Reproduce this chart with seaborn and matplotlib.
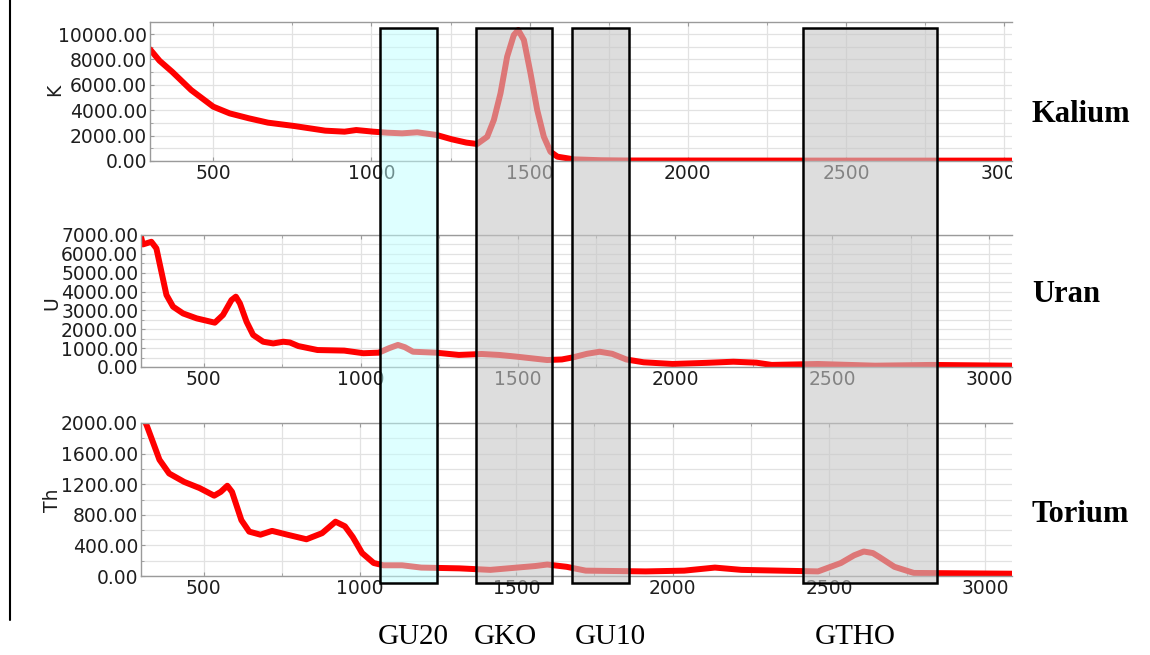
import numpy as np
import pandas as pd
import seaborn as sns
import matplotlib
matplotlib.use("Agg")
import matplotlib.pyplot as plt
from matplotlib.patches import Rectangle
from matplotlib.lines import Line2D
from matplotlib.transforms import Bbox, TransformedBbox
from matplotlib.ticker import MultipleLocator, FormatStrFormatter

# ---------------- data ----------------
kalium_x = [300, 330, 370, 430, 500, 552, 613, 673, 755, 854, 915, 952, 1006, 1050,
            1097, 1145, 1206, 1254, 1300, 1334, 1366, 1387, 1408, 1429, 1450, 1464,
            1482, 1503, 1524, 1545, 1566, 1588, 1640, 1725, 1800, 2500, 3025]
kalium_y = [8800, 7900, 7030, 5590, 4280, 3750, 3360, 3020, 2760, 2390, 2310, 2440, 2310, 2230,
            2180, 2260, 2050, 1710, 1450, 1340, 1910, 3230, 5330, 8220, 9920, 10315,
            9530, 6900, 4020, 1910, 730, 340, 130, 60, 40, 30, 30]

uran_x = [300, 306, 333, 349, 365, 381, 402, 434, 477, 535, 561, 588, 602, 615, 636, 657,
          689, 721, 753, 774, 801, 862, 947, 1008, 1057, 1090, 1118, 1140, 1166, 1239, 1312,
          1385, 1440, 1495, 1593, 1640, 1675, 1720, 1760, 1800, 1845, 1900, 1992, 2100,
          2186, 2259, 2308, 2455, 2637, 2818, 3073]
uran_y = [6910, 6500, 6640, 6290, 5050, 3820, 3200, 2840, 2580, 2350, 2760, 3550, 3730, 3370, 2400, 1700,
          1340, 1250, 1340, 1300, 1110, 900, 870, 730, 760, 1000, 1170, 1050, 810, 760, 640,
          690, 640, 550, 370, 400, 510, 700, 810, 700, 400, 250, 160, 220,
          280, 230, 110, 160, 70, 110, 70]

torium_x = [300, 320, 340, 359, 390, 438, 487, 534, 555, 576, 591, 621, 646, 682, 719, 768,
            829, 879, 922, 952, 977, 1007, 1044, 1075, 1135, 1196, 1318, 1417, 1502, 1560,
            1599, 1661, 1722, 1914, 2037, 2135, 2220, 2342, 2465, 2538, 2580, 2611, 2640,
            2660, 2709, 2771, 3085]
torium_y = [2150, 1950, 1730, 1520, 1340, 1230, 1150, 1050, 1100, 1180, 1100, 730, 580, 540, 590, 540,
            480, 560, 710, 650, 510, 300, 170, 140, 140, 110, 100, 80, 110, 130,
            150, 120, 70, 60, 70, 110, 80, 70, 60, 170, 270, 320, 300,
            250, 120, 40, 30]

axis_letters = ["K", "U", "Th"]
panel_names = ["Kalium", "Uran", "Torium"]
box_labels = ["GU20", "GKO", "GU10", "GTHO"]

# ---------------- figure ----------------
sns.set_style("white")
plt.rcParams['font.family'] = ['DejaVu Sans']

W, H = 1150, 655
fig = plt.figure(figsize=(W / 100, H / 100), dpi=100)


def fx(px):
    return px / W


def fy(py):
    return 1 - py / H


def make_ax(left, right, top, bottom):
    return fig.add_axes([left / W, 1 - bottom / H, (right - left) / W, (bottom - top) / H])


panels = [
    dict(x=kalium_x, y=kalium_y, pos=(150, 1012, 22, 161), xlim=(300, 3025),
         ylim=(0, 10950), ystep=2000, letter_pos=(55, 90), name_y=115),
    dict(x=uran_x, y=uran_y, pos=(141, 1012, 235, 367), xlim=(300, 3073),
         ylim=(0, 7000), ystep=1000, letter_pos=(52, 303), name_y=294),
    dict(x=torium_x, y=torium_y, pos=(141, 1012, 423, 576), xlim=(300, 3085),
         ylim=(0, 2000), ystep=400, letter_pos=(52, 500), name_y=515),
]

clip_bbox = TransformedBbox(Bbox([[0, 0], [1012 / W, 1]]), fig.transFigure)

for p, letter, name in zip(panels, axis_letters, panel_names):
    ax = make_ax(*p["pos"])
    df = pd.DataFrame({"x": p["x"], "y": p["y"]})
    sns.lineplot(data=df, x="x", y="y", ax=ax, color="#ff0000", lw=4.3,
                 solid_capstyle="round", solid_joinstyle="round")
    ax.set_xlim(*p["xlim"])
    ax.set_ylim(*p["ylim"])
    ax.set_xlabel("")
    ax.set_ylabel("")
    ax.xaxis.set_major_locator(MultipleLocator(500))
    ax.xaxis.set_minor_locator(MultipleLocator(250))
    ax.yaxis.set_major_locator(MultipleLocator(p["ystep"]))
    ax.yaxis.set_minor_locator(MultipleLocator(p["ystep"] / 2))
    ax.yaxis.set_major_formatter(FormatStrFormatter('%.2f'))
    ax.grid(True, which="both", color="#e2e2e2", lw=0.9)
    ax.set_axisbelow(True)
    ax.tick_params(axis="both", which="both", direction="in", length=3,
                   color="#9a9a9a", labelsize=13.5, labelcolor="#1e1e1e", pad=2,
                   top=True, left=True, bottom=True)
    ax.tick_params(axis="both", which="minor", length=2)
    for s in ["left", "bottom", "top"]:
        ax.spines[s].set_color("#9a9a9a")
        ax.spines[s].set_linewidth(1.0)
    ax.spines["right"].set_visible(False)
    for lbl in ax.get_xticklabels():
        lbl.set_clip_on(True)
        lbl.set_clip_box(clip_bbox)
    lx, ly = p["letter_pos"]
    fig.text(fx(lx), fy(ly), letter, rotation=90, ha="center", va="center",
             fontsize=13.5, color="#1e1e1e")
    fig.text(fx(1032), fy(p["name_y"]), name, ha="left", va="center",
             fontsize=22, fontweight="bold", family="Liberation Serif", color="black")

# ---------------- highlight boxes ----------------
boxes = [(380, 437, (0.75, 1.0, 1.0, 0.5)),
         (476, 552, (0.78, 0.78, 0.78, 0.6)),
         (572, 629, (0.78, 0.78, 0.78, 0.6)),
         (803, 937, (0.78, 0.78, 0.78, 0.6))]
box_top, box_bottom = 28, 583
for (x0, x1, fc), lab in zip(boxes, box_labels):
    fig.add_artist(Rectangle((fx(x0), fy(box_bottom)), (x1 - x0) / W,
                             (box_bottom - box_top) / H, transform=fig.transFigure,
                             facecolor=fc, edgecolor="black", lw=1.8, zorder=10))

label_x = [413, 505, 610, 855]
for lab, cx in zip(box_labels, label_x):
    fig.text(fx(cx), fy(637), lab, ha="center", va="center", fontsize=21,
             family="Liberation Serif", color="black")

# left border line
fig.add_artist(Line2D([fx(10), fx(10)], [fy(0), fy(620)], color="black", lw=1.5,
                      transform=fig.transFigure))

fig.savefig("out.png", dpi=100)
